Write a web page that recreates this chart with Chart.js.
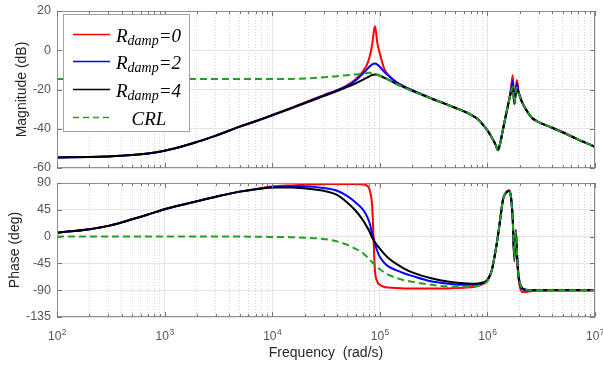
<!DOCTYPE html>
<html>
<head>
<meta charset="utf-8">
<script src="https://cdn.jsdelivr.net/npm/chart.js@4.4.1/dist/chart.umd.min.js"></script>
<style>
  html, body { margin: 0; padding: 0; background: #fff; }
  #wrap { position: relative; width: 603px; height: 368px; overflow: hidden; }
  #magChart { position: absolute; left: 0; top: 0; }
  #phaseChart { position: absolute; left: 0; top: 175px; }
</style>
</head>
<body>
<div id="wrap">
  <canvas id="magChart" width="603" height="175"></canvas>
  <canvas id="phaseChart" width="603" height="193"></canvas>
</div>
<script>
// frequency points (rad/s)
const freq = [
  1e2, 2e2, 3e2, 5e2, 7e2,
  1e3, 1.5e3, 2e3, 3e3, 5e3, 7e3,
  1e4, 1.5e4, 2e4, 3e4, 4e4, 5e4, 6e4, 7e4, 7.5e4, 8e4, 8.5e4, 9e4, 9.5e4,
  1e5, 1.1e5, 1.2e5, 1.4e5, 1.7e5, 2e5, 3e5, 4e5, 5e5, 6e5, 7e5, 8e5, 9e5,
  1e6, 1.1e6, 1.2e6, 1.25e6, 1.3e6, 1.4e6, 1.5e6, 1.6e6, 1.66e6, 1.72e6, 1.78e6, 1.84e6, 1.88e6, 1.94e6,
  2e6, 2.1e6, 2.3e6, 2.6e6, 3e6, 4e6, 5e6, 7e6, 1e7
];

// magnitude (dB)
const magR0 = [
  -54.6, -54.4, -54.1, -53.4, -52.6,
  -51.2, -48.8, -46.7, -43.5, -38.9, -36.2,
  -33.0, -29.4, -26.7, -22.9, -20.3, -17.8, -14.6, -10.6, -8.0, -3.8, 3.0, 12.3, 3.5,
  -1.5, -9.5, -12.6, -15.9, -18.5, -20.3, -24.4, -27.1, -29.2, -31.0, -32.8, -34.8, -37.6,
  -40.8, -44.5, -48.5, -51.0, -48.5, -40.0, -32.0, -24.5, -19.0, -12.7, -27.5, -19.5, -15.2, -20.5,
  -23.0, -26.3, -30.5, -34.5, -36.6, -39.5, -41.8, -45.5, -49.2
];
const magR2 = [
  -54.6, -54.4, -54.1, -53.4, -52.6,
  -51.2, -48.8, -46.7, -43.5, -38.9, -36.2,
  -33.1, -29.5, -26.8, -23.1, -20.5, -18.2, -15.3, -11.8, -10.1, -8.4, -7.2, -6.8, -7.3,
  -8.4, -11.0, -12.9, -16.0, -18.6, -20.4, -24.5, -27.2, -29.3, -31.0, -32.8, -34.8, -37.6,
  -40.8, -44.5, -48.5, -51.0, -48.5, -40.0, -32.0, -24.8, -20.0, -15.5, -27.3, -20.2, -17.0, -21.0,
  -23.3, -26.4, -30.5, -34.5, -36.6, -39.5, -41.8, -45.5, -49.2
];
const magR4 = [
  -54.6, -54.4, -54.1, -53.4, -52.6,
  -51.2, -48.8, -46.7, -43.5, -38.9, -36.2,
  -33.2, -29.6, -27.0, -23.4, -20.8, -18.7, -16.8, -15.0, -14.1, -13.3, -12.6, -12.3, -12.5,
  -13.0, -14.0, -15.0, -17.0, -19.0, -20.7, -24.6, -27.2, -29.3, -31.0, -32.8, -34.8, -37.6,
  -40.8, -44.5, -48.5, -51.0, -48.5, -40.0, -32.0, -25.0, -21.5, -19.0, -27.2, -21.0, -19.5, -21.5,
  -23.5, -26.5, -30.5, -34.5, -36.6, -39.5, -41.8, -45.5, -49.2
];
const magCRL = [
  -14.7, -14.7, -14.7, -14.7, -14.7,
  -14.7, -14.7, -14.7, -14.7, -14.7, -14.7,
  -14.7, -14.6, -14.4, -13.8, -13.2, -12.7, -12.3, -11.9, -11.7, -11.5, -11.6, -12.0, -12.5,
  -13.0, -14.0, -15.0, -17.0, -19.0, -20.7, -24.6, -27.2, -29.3, -31.0, -32.8, -34.8, -37.6,
  -40.8, -44.5, -48.5, -51.0, -48.5, -40.0, -32.0, -25.0, -21.2, -18.7, -27.2, -20.8, -19.0, -21.5,
  -23.5, -26.5, -30.5, -34.5, -36.6, -39.5, -41.8, -45.5, -49.2
];

// phase (deg)
const phaseR0 = [
  6.5, 12.5, 18, 29, 37,
  46, 54, 59.5, 67, 75.5, 79.5,
  84, 86, 87, 88, 88.5, 88.5, 88.5, 87.5, 86, 80, 50, -55, -76,
  -81, -84.5, -85.5, -86.5, -87, -87, -87, -87, -86.5, -86, -85, -83.5, -80,
  -74, -57, -21, 0, 22, 63, 75, 78, 66, 30, -42, 12, -30, -68,
  -84, -93, -93, -91, -90.5, -90, -90, -90, -90
];
const phaseR2 = [
  6.5, 12.5, 18, 29, 37,
  46, 54, 59.5, 67, 75.5, 79.5,
  83, 84, 84, 81.5, 77, 68, 57, 45, 36, 24, 5, -12, -25,
  -34, -44, -50, -56, -62, -66, -75, -78.5, -80.5, -81, -81, -80.5, -78,
  -73, -56, -20, 0, 22, 63, 74, 77, 65, 29, -38, 9, -27, -64,
  -80, -88, -90, -90, -90, -90, -90, -90, -90
];
const phaseR4 = [
  6.5, 12.5, 18, 29, 37,
  46, 54, 59.5, 67, 75.5, 79.5,
  82.5, 82.5, 81, 77, 70, 57, 43, 27, 18, 9, -2, -9, -15,
  -20, -29, -36, -45, -54, -60, -70, -74.5, -77, -78.5, -79, -79, -77,
  -73, -56, -20, 0, 22, 63, 74, 76.5, 64, 28, -36, 8, -26, -62,
  -77, -86, -89, -90, -90, -90, -90, -90, -90
];
const phaseCRL = [
  0, 0, 0, 0, 0,
  0, 0, 0, 0, 0, -0.3,
  -0.5, -1, -1.8, -4, -8, -14, -21, -28, -33, -38, -43, -47, -51,
  -55, -60, -64, -69, -73.5, -76, -81, -83.5, -84.5, -84.5, -84, -83, -80,
  -75, -56, -20, 0, 22, 63, 74, 76.5, 64, 28, -36, 8, -26, -62,
  -77, -86, -89, -90, -90, -90, -90, -90, -90
];

// axes
const decades = [1e2, 1e3, 1e4, 1e5, 1e6, 1e7];
const decadeExponents = ["2", "3", "4", "5", "6", "7"];
const minorSteps = [2, 3, 4, 5, 6, 7, 8, 9];
const magTicks = [-60, -40, -20, 0, 20];
const phaseTicks = [-135, -90, -45, 0, 45, 90];

const seriesLabels = ["R_damp=0", "R_damp=2", "R_damp=4", "CRL"];
const seriesColors = ["#ff0000", "#0000ff", "#000000", "#22a022"];

const minorFreqs = decades.slice(0, -1).flatMap((d) => minorSteps.map((s) => s * d));

const sansFont = "'Liberation Sans', Arial, sans-serif";
const serifFont = "'Liberation Serif', 'Times New Roman', serif";

function lineSet(idx, values) {
  const dashed = idx === 3;
  return {
    label: seriesLabels[idx],
    data: freq.map((f, i) => ({ x: f, y: values[i] })),
    borderColor: seriesColors[idx],
    borderWidth: 2,
    borderDash: dashed ? [7, 4] : [],
    pointRadius: 0,
    cubicInterpolationMode: "monotone",
    fill: false,
    // CRL on top, then R=4, R=2, R=0 below
    order: 3 - idx,
  };
}

// box around the plot + inward tick marks
const framePlugin = {
  id: "frame",
  afterDatasetsDraw(chart) {
    const { ctx, chartArea: a, scales } = chart;
    ctx.save();
    ctx.strokeStyle = "#8f8f8f";
    ctx.lineWidth = 1;
    ctx.strokeRect(a.left + 0.5, a.top + 0.5, a.width - 1, a.height - 1);
    ctx.strokeStyle = "#777";
    ctx.beginPath();
    const xTick = (v, len) => {
      const p = Math.round(scales.x.getPixelForValue(v)) + 0.5;
      ctx.moveTo(p, a.bottom); ctx.lineTo(p, a.bottom - len);
      ctx.moveTo(p, a.top); ctx.lineTo(p, a.top + len);
    };
    decades.forEach((v) => xTick(v, 5));
    minorFreqs.forEach((v) => xTick(v, 3));
    scales.y.ticks.forEach((t) => {
      const p = Math.round(scales.y.getPixelForValue(t.value)) + 0.5;
      ctx.moveTo(a.left, p); ctx.lineTo(a.left + 5, p);
      ctx.moveTo(a.right, p); ctx.lineTo(a.right - 5, p);
    });
    ctx.stroke();
    ctx.restore();
  },
};

// "10" with a raised exponent under each decade tick
const powerLabelPlugin = {
  id: "powerLabels",
  afterDraw(chart) {
    const { ctx, scales } = chart;
    const s = scales.x;
    const baseY = s.top + 23;
    ctx.save();
    ctx.fillStyle = "#555";
    ctx.textAlign = "left";
    ctx.textBaseline = "alphabetic";
    s.ticks.forEach((t) => {
      const exp = decadeExponents[decades.indexOf(t.value)];
      if (exp === undefined) return;
      const x = s.getPixelForValue(t.value);
      ctx.font = "12px " + sansFont;
      const wBase = ctx.measureText("10").width;
      ctx.font = "8.5px " + sansFont;
      const wExp = ctx.measureText(exp).width;
      const x0 = x - (wBase + wExp) / 2;
      ctx.font = "12px " + sansFont;
      ctx.fillText("10", x0, baseY);
      ctx.font = "8.5px " + sansFont;
      ctx.fillText(exp, x0 + wBase + 0.5, baseY - 5);
    });
    ctx.restore();
  },
};

// legend with subscripted labels
const legendPlugin = {
  id: "bodeLegend",
  afterDraw(chart) {
    const ctx = chart.ctx;
    ctx.save();
    ctx.fillStyle = "#fff";
    ctx.strokeStyle = "#a3a3a3";
    ctx.lineWidth = 1;
    ctx.fillRect(63.5, 14.5, 126, 117);
    ctx.strokeRect(63.5, 14.5, 126, 117);
    chart.data.datasets.forEach((ds, i) => {
      const y = Math.round(33.5 + i * 27.8) + 0.5;
      ctx.beginPath();
      ctx.strokeStyle = ds.borderColor;
      ctx.lineWidth = 1.5;
      ctx.setLineDash(ds.borderDash.length ? [6, 4] : []);
      ctx.moveTo(73, y);
      ctx.lineTo(110, y);
      ctx.stroke();
      ctx.setLineDash([]);
      ctx.fillStyle = "#000";
      ctx.textBaseline = "alphabetic";
      const m = ds.label.match(/^(\w)_(\w+)(=.*)$/);
      if (m) {
        let x = 116;
        ctx.textAlign = "left";
        ctx.font = "italic 19px " + serifFont;
        ctx.fillText(m[1], x, y + 7);
        x += ctx.measureText(m[1]).width;
        ctx.font = "italic 14px " + serifFont;
        ctx.fillText(m[2], x, y + 10.5);
        x += ctx.measureText(m[2]).width;
        ctx.font = "italic 19px " + serifFont;
        ctx.fillText(m[3], x, y + 7);
      } else {
        ctx.textAlign = "center";
        ctx.font = "italic 19px " + serifFont;
        ctx.fillText(ds.label, 149, y + 7);
      }
    });
    ctx.restore();
  },
};

function xAxes(showLabels) {
  return {
    x: {
      type: "logarithmic",
      position: "bottom",
      min: 1e2,
      max: 1e7,
      afterBuildTicks: (s) => { s.ticks = decades.map((v) => ({ value: v, major: true })); },
      afterFit: (s) => {
        s.height = showLabels ? 51 : 0;
        s.paddingLeft = 0;
        s.paddingRight = 0;
      },
      grid: { color: "#e4e4e4", lineWidth: 1, drawTicks: false },
      border: { display: false },
      ticks: { display: false },
      title: {
        display: showLabels,
        text: "Frequency  (rad/s)",
        color: "#262626",
        font: { family: sansFont, size: 14 },
        padding: { top: 0, bottom: 6 },
      },
    },
    xm: {
      type: "logarithmic",
      position: "bottom",
      min: 1e2,
      max: 1e7,
      afterBuildTicks: (s) => { s.ticks = minorFreqs.map((v) => ({ value: v })); },
      afterFit: (s) => { s.height = 0; s.paddingLeft = 0; s.paddingRight = 0; },
      grid: { color: "#d4d4d4", lineWidth: 1, drawTicks: false },
      border: { display: false, dash: [1, 2] },
      ticks: { display: false },
    },
  };
}

function yAxis(min, max, tickList, title, titlePad) {
  return {
    type: "linear",
    position: "left",
    min,
    max,
    afterBuildTicks: (s) => { s.ticks = tickList.map((v) => ({ value: v })); },
    afterFit: (s) => { s.width = 57; s.paddingTop = 0; s.paddingBottom = 0; },
    grid: { color: "#e4e4e4", lineWidth: 1, drawTicks: false },
    border: { display: false },
    ticks: {
      padding: 6,
      color: "#555",
      font: { family: sansFont, size: 12.5 },
    },
    title: {
      display: true,
      text: title,
      color: "#262626",
      font: { family: sansFont, size: 14 },
      padding: { top: titlePad, bottom: 0 },
    },
  };
}

const baseOptions = {
  responsive: false,
  animation: false,
  events: [],
  plugins: { legend: { display: false }, tooltip: { enabled: false } },
};

new Chart(document.getElementById("magChart").getContext("2d"), {
  type: "line",
  data: {
    datasets: [
      lineSet(0, magR0),
      lineSet(1, magR2),
      lineSet(2, magR4),
      lineSet(3, magCRL),
    ],
  },
  options: {
    ...baseOptions,
    layout: { padding: { left: 0, right: 8, top: 11, bottom: 7 } },
    scales: { ...xAxes(false), y: yAxis(-60, 20, magTicks, "Magnitude (dB)", 14) },
  },
  plugins: [framePlugin, legendPlugin],
});

new Chart(document.getElementById("phaseChart").getContext("2d"), {
  type: "line",
  data: {
    datasets: [
      lineSet(0, phaseR0),
      lineSet(1, phaseR2),
      lineSet(2, phaseR4),
      lineSet(3, phaseCRL),
    ],
  },
  options: {
    ...baseOptions,
    layout: { padding: { left: 0, right: 8, top: 8, bottom: 0 } },
    scales: { ...xAxes(true), y: yAxis(-135, 90, phaseTicks, "Phase (deg)", 7) },
  },
  plugins: [framePlugin, powerLabelPlugin],
});
</script>
</body>
</html>
